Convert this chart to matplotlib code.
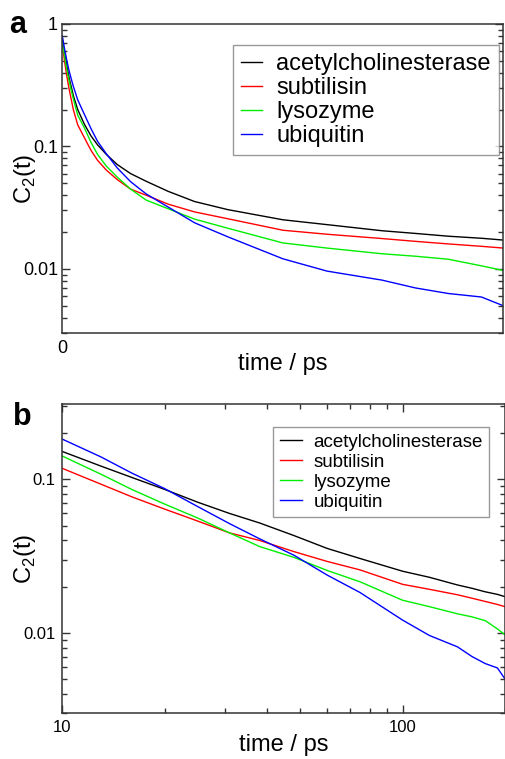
import numpy as np
import matplotlib
matplotlib.use('Agg')
import matplotlib.pyplot as plt

plt.rcParams['font.family'] = ['Liberation Sans', 'DejaVu Sans']
plt.rcParams['mathtext.fontset'] = 'custom'
plt.rcParams['mathtext.rm'] = 'Liberation Sans'

# time points (ps)
t = [0, 1, 2, 3, 4, 5, 7, 10, 13, 16, 20, 25, 31, 38, 48, 60, 75, 100, 120, 145, 160, 175, 190, 200]

# C2(t) for each protein
ache = [0.75, 0.58, 0.46, 0.37, 0.31, 0.26, 0.20, 0.152, 0.122, 0.103, 0.086, 0.071, 0.060, 0.052,
        0.043, 0.0355, 0.0305, 0.0252, 0.0230, 0.0205, 0.0195, 0.0185, 0.0178, 0.0172]
subtilisin = [0.70, 0.50, 0.38, 0.30, 0.245, 0.20, 0.15, 0.118, 0.093, 0.077, 0.064, 0.0535, 0.0448, 0.040,
              0.0338, 0.0292, 0.0257, 0.0207, 0.0192, 0.0177, 0.0168, 0.0160, 0.0153, 0.0148]
lysozyme = [0.72, 0.55, 0.43, 0.35, 0.29, 0.245, 0.18, 0.142, 0.108, 0.086, 0.069, 0.056, 0.0448, 0.0365,
            0.031, 0.0255, 0.0215, 0.0163, 0.0148, 0.0133, 0.0127, 0.0120, 0.0106, 0.0097]
ubiquitin = [0.80, 0.63, 0.51, 0.42, 0.36, 0.31, 0.24, 0.183, 0.14, 0.11, 0.087, 0.0665, 0.0515, 0.041,
             0.032, 0.0238, 0.0183, 0.0121, 0.0096, 0.0081, 0.0070, 0.0063, 0.0059, 0.0050]

names = ['acetylcholinesterase', 'subtilisin', 'lysozyme', 'ubiquitin']
series = [ache, subtilisin, lysozyme, ubiquitin]
colors = ['#000000', '#ff0000', '#00ee00', '#0000ff']

fig = plt.figure(figsize=(5.06, 7.59), dpi=100)
ax1 = fig.add_axes([0.1231, 0.5613, 0.8719, 0.4071])
ax2 = fig.add_axes([0.1231, 0.0606, 0.8749, 0.4071])

for ax in (ax1, ax2):
    for name, vals, c in zip(names, series, colors):
        ax.plot(t, vals, color=c, lw=1.0, label=name)
    ax.set_yscale('log')
    for s in ax.spines.values():
        s.set_linewidth(1.1)
        s.set_color('#333333')
    ax.set_xlabel('time / ps', fontsize=17, va='center')
    ax.set_ylabel(r'C$_\mathregular{2}$(t)', fontsize=17, va='center')
    ax.yaxis.set_label_coords(-0.085, 0.5)

ax1.xaxis.set_label_coords(0.5, -0.1)
ax2.xaxis.set_label_coords(0.5, -0.105)

# panel a: linear time, log C2
ax1.set_xlim(0, 200)
ax1.set_ylim(0.003, 1)
ax1.set_xticks([0])
ax1.set_xticklabels(['0'])
ax1.tick_params(axis='x', length=0, labelsize=13, pad=5)
ax1.set_yticks([0.01, 0.1, 1])
ax1.set_yticklabels(['0.01', '0.1', '1'])
ax1.tick_params(axis='y', which='both', direction='in', left=True, right=True, labelsize=13, color='#333333')
ax1.tick_params(axis='y', which='major', length=6, width=1, pad=3)
ax1.tick_params(axis='y', which='minor', length=3.5, width=1)
ax1.legend(loc='upper right', bbox_to_anchor=(0.99, 0.932), fontsize=17, frameon=True, fancybox=False,
           edgecolor='#808080', handlelength=0.9, handletextpad=0.6, labelspacing=0.08,
           borderpad=0.35, borderaxespad=0)
ax1.get_legend().get_frame().set_linewidth(1.0)

# panel b: log-log
ax2.set_xscale('log')
ax2.set_xlim(10, 200)
ax2.set_ylim(0.003, 0.31)
ax2.set_xticks([10, 100])
ax2.set_xticklabels(['10', '100'])
ax2.set_yticks([0.01, 0.1])
ax2.set_yticklabels(['0.01', '0.1'])
ax2.tick_params(which='both', direction='in', top=True, right=True, labelsize=12, color='#333333')
ax2.tick_params(which='major', length=6, width=1, pad=5)
ax2.tick_params(which='minor', length=3.5, width=1)
ax2.legend(loc='upper right', bbox_to_anchor=(0.965, 0.925), fontsize=13.5, frameon=True, fancybox=False,
           edgecolor='#808080', handlelength=1.2, handletextpad=0.6, labelspacing=0.15,
           borderpad=0.35, borderaxespad=0)
ax2.get_legend().get_frame().set_linewidth(1.0)

fig.text(0.018, 0.956, 'a', fontsize=22, fontweight='bold')
fig.text(0.025, 0.44, 'b', fontsize=22, fontweight='bold')

fig.savefig('out.png', dpi=100)
